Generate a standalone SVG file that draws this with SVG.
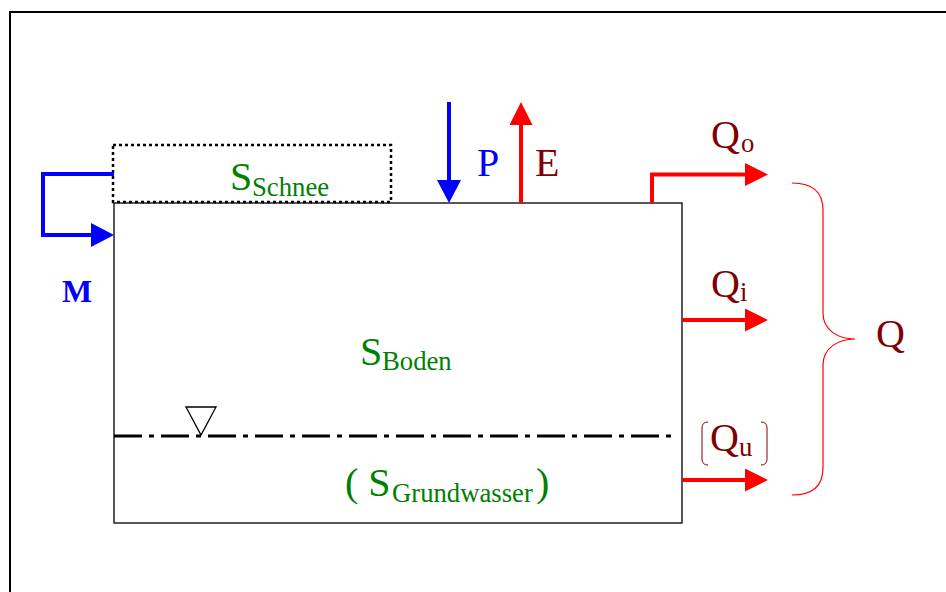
<svg xmlns="http://www.w3.org/2000/svg" width="946" height="592" viewBox="0 0 946 592">
<style>
.t{font-family:'Liberation Serif',Tinos,'Times New Roman',Times,'DejaVu Serif',serif;}
.big{font-size:40px;}
.sub{font-size:26.7px;}
.green{fill:#008000;}
.dred{fill:#800000;}
.blue{fill:#0000FF;}
.ar{fill:none;stroke:#FF0000;stroke-width:4;}
.ab{fill:none;stroke:#0000FF;stroke-width:4;}
</style>
<defs>
<marker id="hr" viewBox="0 0 23 23" refX="13" refY="11.5" markerWidth="23" markerHeight="23" markerUnits="userSpaceOnUse" orient="auto">
<path d="M0,0 L23,11.5 L0,23 z" fill="#FF0000"/>
</marker>
<marker id="hb" viewBox="0 0 23 24" refX="13" refY="12" markerWidth="23" markerHeight="24" markerUnits="userSpaceOnUse" orient="auto">
<path d="M0,0 L23,12 L0,24 z" fill="#0000FF"/>
</marker>
</defs>
<rect width="946" height="592" fill="#FFFFFF"/>
<path d="M10,592 V12 H946" fill="none" stroke="#000" stroke-width="2"/>

<g id="boden">
<rect x="114" y="203" width="568" height="320" fill="none" stroke="#222" stroke-width="1.5"/>
<text class="t big green" x="360" y="365">S</text>
<text class="t sub green" x="382" y="370">Boden</text>
</g>

<g id="schnee">
<rect x="113" y="145" width="278" height="57" fill="none" stroke="#000" stroke-width="2.5" stroke-dasharray="3 3"/>
<text class="t big green" x="230" y="190">S</text>
<text class="t sub green" x="252" y="196">Schnee</text>
</g>

<g id="grundwasser">
<path d="M114,436 H672" fill="none" stroke="#000" stroke-width="3" stroke-dasharray="28 7 5 7"/>
<polygon points="186,407 216,407 201,435" fill="#FFFFFF" stroke="#000" stroke-width="1.3"/>
<text class="t big green" x="345" y="496">( S</text>
<text class="t sub green" x="392" y="502">Grundwasser</text>
<text class="t big green" x="536" y="496">)</text>
</g>

<g id="labels">
<text class="t blue" x="62" y="302" font-size="32" font-weight="bold">M</text>
<text class="t big blue" x="477" y="176">P</text>
<text class="t big dred" x="535" y="176">E</text>
<text class="t big dred" x="711" y="148">Q</text>
<text class="t sub dred" x="741" y="152">o</text>
<text class="t big dred" x="711" y="297">Q</text>
<text class="t sub dred" x="740" y="301">i</text>
<text class="t big dred" x="710" y="451">Q</text>
<text class="t sub dred" x="739" y="456">u</text>
<path d="M708,422 Q702,422 702,428 V459 Q702,465 708,465 M761,422 Q767,422 767,428 V459 Q767,465 761,465" fill="none" stroke="#800000" stroke-width="1"/>
<text class="t big dred" x="876" y="347">Q</text>
<path d="M792,183 C812,183 823,192 823,210 V313 C823,330 838,339 855,339 C838,339 823,348 823,365 V468 C823,486 812,495 792,495" fill="none" stroke="#FF0000" stroke-width="1.2"/>
</g>

<g id="connectors">
<path class="ab" d="M114,174 H43 V235 H104" marker-end="url(#hb)"/>
<path class="ab" d="M449,102 V193" marker-end="url(#hb)"/>
<path class="ar" d="M521,203 V112" marker-end="url(#hr)"/>
<path class="ar" d="M652,203 V174.5 H758" marker-end="url(#hr)"/>
<path class="ar" d="M682,320 H758" marker-end="url(#hr)"/>
<path class="ar" d="M682,480 H758" marker-end="url(#hr)"/>
</g>
</svg>
